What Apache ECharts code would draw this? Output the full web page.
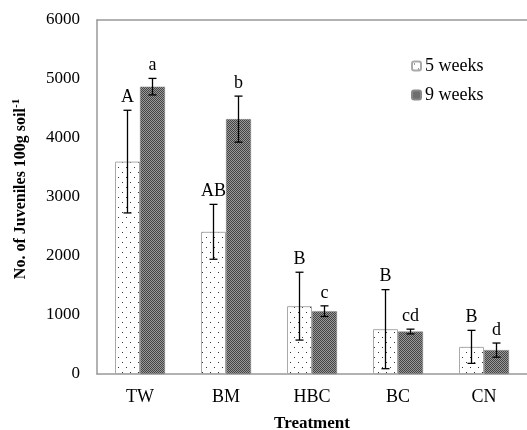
<!DOCTYPE html>
<html>
<head>
<meta charset="utf-8">
<script src="https://cdn.jsdelivr.net/npm/echarts@6/dist/echarts.min.js"></script>
<style>html,body{margin:0;padding:0;background:#fff}#c{width:527px;height:430px}</style>
</head>
<body>
<div id="c"></div>
<script>
const categories = ['TW', 'BM', 'HBC', 'BC', 'CN'];
const week5 = [3600, 2410, 1150, 760, 460];
const week5Err = [870, 465, 575, 670, 280];
const week5Letters = ['A', 'AB', 'B', 'B', 'B'];
const week9 = [4870, 4320, 1065, 720, 405];
const week9Err = [140, 390, 90, 40, 120];
const week9Letters = ['a', 'b', 'c', 'cd', 'd'];
const yTicks = [0, 1000, 2000, 3000, 4000, 5000, 6000];

function dotPattern() {
  const c = document.createElement('canvas');
  c.width = 8; c.height = 10;
  const g = c.getContext('2d');
  g.fillStyle = '#fff'; g.fillRect(0, 0, 8, 10);
  g.fillStyle = '#333';
  g.fillRect(2, 2, 1, 1);
  g.fillRect(6, 7, 1, 1);
  return c;
}
function checkPattern() {
  const c = document.createElement('canvas');
  c.width = 2; c.height = 2;
  const g = c.getContext('2d');
  g.fillStyle = '#999999'; g.fillRect(0, 0, 2, 2);
  g.fillStyle = '#444444'; g.fillRect(0, 0, 1, 1); g.fillRect(1, 1, 1, 1);
  return c;
}
const serif = '"Liberation Serif", "Times New Roman", serif';
const chart = echarts.init(document.getElementById('c'));
const BW = 25;

function errSeries(vals, errs, letters, offset) {
  return {
    type: 'custom',
    data: vals.map((v, i) => [i, v - errs[i], v + errs[i]]),
    encode: { x: 0, y: [1, 2] },
    z: 10,
    renderItem: function (params, api) {
      const i = api.value(0);
      const lo = api.coord([i, api.value(1)]);
      const hi = api.coord([i, api.value(2)]);
      const x = lo[0] + offset;
      const cap = 4;
      const st = { stroke: '#000', lineWidth: 1.3 };
      return {
        type: 'group',
        children: [
          { type: 'line', shape: { x1: x, y1: lo[1], x2: x, y2: hi[1] }, style: st },
          { type: 'line', shape: { x1: x - cap, y1: lo[1], x2: x + cap, y2: lo[1] }, style: st },
          { type: 'line', shape: { x1: x - cap, y1: hi[1], x2: x + cap, y2: hi[1] }, style: st },
          { type: 'text', style: { text: letters[i], x: x, y: hi[1] - 4, textAlign: 'center', textVerticalAlign: 'bottom', font: '18px ' + serif, fill: '#000' } }
        ]
      };
    }
  };
}

chart.setOption({
  animation: false,
  backgroundColor: '#fff',
  grid: { left: 97, right: 0, top: 20, bottom: 56, containLabel: false, outerBoundsMode: 'none' },
  legend: {
    orient: 'vertical', left: 411, top: 57, padding: 0, itemWidth: 9, itemHeight: 9, itemGap: 11,
    data: ['5 weeks', '9 weeks'],
    textStyle: { fontFamily: serif, fontSize: 18, color: '#000', padding: [0, 0, 0, -1] }
  },
  xAxis: [{
    type: 'category', data: categories,
    axisLine: { lineStyle: { color: '#999', width: 1.5 } },
    axisTick: { show: false },
    axisLabel: { fontFamily: serif, fontSize: 18, color: '#000', margin: 14 },
    name: 'Treatment', nameLocation: 'middle', nameGap: 41,
    nameTextStyle: { fontFamily: serif, fontSize: 17, fontWeight: 'bold', color: '#000' }
  }, {
    type: 'category', data: categories, position: 'top',
    axisLine: { show: true, lineStyle: { color: '#999', width: 1.5 } },
    axisTick: { show: false }, axisLabel: { show: false }
  }],
  yAxis: {
    type: 'value', min: 0, max: 6000, interval: 1000,
    axisLine: { show: true, lineStyle: { color: '#999', width: 1.5 } },
    axisTick: { show: false },
    splitLine: { show: false },
    axisLabel: { fontFamily: serif, fontSize: 17, color: '#000', margin: 17,
      formatter: v => yTicks.includes(v) ? String(v) : '' },
    name: '{a|No. of Juveniles 100g soil}{b|-1}', nameLocation: 'middle', nameGap: 67,
    nameTextStyle: {
      padding: [0, 0, 0, 16],
      rich: {
        a: { fontFamily: serif, fontSize: 16, fontWeight: 'bold', color: '#000' },
        b: { fontFamily: serif, fontSize: 11, fontWeight: 'bold', color: '#000', verticalAlign: 'top', padding: [0, 0, 8, 0] }
      }
    }
  },
  series: [
    { name: '5 weeks', type: 'bar', data: week5, barWidth: BW, barGap: '0%',
      itemStyle: { color: { image: dotPattern(), repeat: 'repeat' }, borderColor: '#aaa', borderWidth: 1 } },
    { name: '9 weeks', type: 'bar', data: week9, barWidth: BW, barGap: '0%',
      itemStyle: { color: { image: checkPattern(), repeat: 'repeat' }, borderColor: '#888', borderWidth: 0.5 } },
    errSeries(week5, week5Err, week5Letters, -BW / 2),
    errSeries(week9, week9Err, week9Letters, BW / 2)
  ]
});
</script>
</body>
</html>
